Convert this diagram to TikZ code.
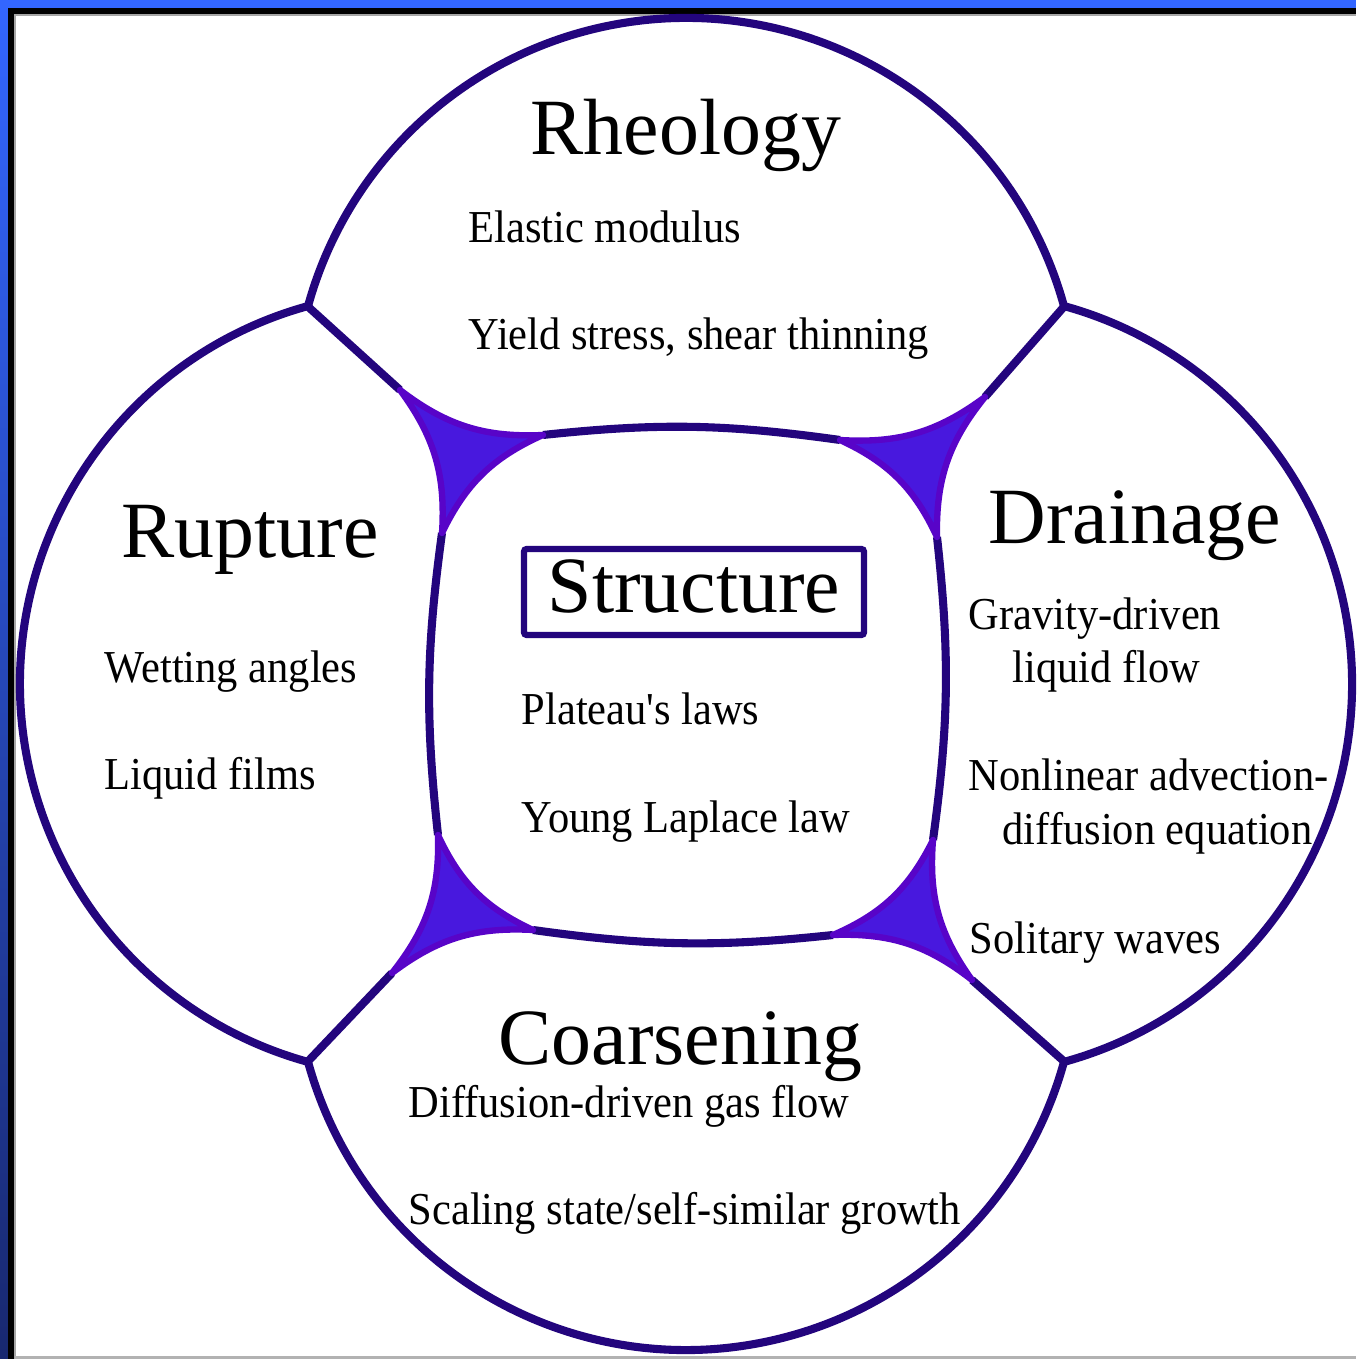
\documentclass[tikz,border=0pt]{standalone}
\usepackage{fontspec}
\setmainfont{Liberation Serif}
\newfontfamily\itemfont[FakeStretch=0.93]{Liberation Serif}
\usetikzlibrary{calc}

\definecolor{film}{RGB}{35,5,125}
\definecolor{pbfill}{RGB}{72,24,222}
\definecolor{pbedge}{RGB}{88,4,200}
\definecolor{frameblue}{RGB}{51,102,255}
\definecolor{framedark}{RGB}{24,40,112}

\tikzset{
  filmline/.style={draw=film, line width=2.3pt},
  plateau/.style={fill=pbfill, draw=pbedge, line width=1.8pt, line join=round},
  bigtitle/.style={anchor=base west, inner sep=0pt, font=\fontsize{22.7}{26}\selectfont},
  topic/.style={anchor=base west, inner sep=0pt, font=\itemfont\fontsize{13}{15}\selectfont},
  structbox/.style={draw=film, line width=1.8pt, rounded corners=0.8pt, inner sep=0pt,
    minimum width=34mm, minimum height=8.6mm, text height=16pt, text depth=4.6pt,
    font=\fontsize{22.7}{26}\selectfont},
}

\begin{document}
\begin{tikzpicture}[x=0.1mm,y=0.1mm]
  % frame
  \useasboundingbox (0,0) rectangle (1356,1359);
  \fill[white] (0,0) rectangle (1356,1359);
  \shade[top color=frameblue, bottom color=framedark] (0,0) rectangle (8,1359);
  \fill[frameblue] (0,1351) rectangle (1356,1359);
  \fill[black] (8,0) rectangle (14.5,1351);
  \fill[black] (8,1344.5) rectangle (1356,1351);
  \draw[black!35, line width=0.4pt] (15,0) -- (15,1344) -- (1356,1344);
  \draw[black!30, line width=0.6pt] (15,1.5) -- (1356,1.5);

  % outer bubbles
  \coordinate (c) at (686,675);
  \foreach \a in {0,90,180,270}
    \draw[filmline] ($(c)+(\a:274)+(\a-74.7:392)$) arc[start angle=\a-74.7, end angle=\a+74.7, radius=392];
  \coordinate (jTL) at ($(c)+(90:274)+(164.7:392)$);
  \coordinate (jTR) at ($(c)+(90:274)+(15.3:392)$);
  \coordinate (jBL) at ($(c)+(270:274)+(195.3:392)$);
  \coordinate (jBR) at ($(c)+(270:274)+(-15.3:392)$);

  % plateau border corners
  \coordinate (a1) at (400,969); \coordinate (a2) at (543,924); \coordinate (a3) at (442,826);
  \coordinate (b1) at (985,962); \coordinate (b2) at (840,919); \coordinate (b3) at (937,822);
  \coordinate (c1) at (392,386); \coordinate (c2) at (533,429); \coordinate (c3) at (438,524);
  \coordinate (d1) at (972,379); \coordinate (d2) at (833,424); \coordinate (d3) at (933,519);

  % films
  \draw[filmline] (jTL) -- (a1);
  \draw[filmline] (jTR) -- (b1);
  \draw[filmline] (jBL) -- (c1);
  \draw[filmline] (jBR) -- (d1);
  \draw[filmline] (a2) to[bend left=7] (b2);
  \draw[filmline] (b3) to[bend left=7] (d3);
  \draw[filmline] (d2) to[bend left=7] (c2);
  \draw[filmline] (c3) to[bend left=7] (a3);

  % plateau borders
  \draw[plateau] (a1) to[bend right=20] (a2) to[bend right=20] (a3) to[bend right=20] cycle;
  \draw[plateau] (b2) to[bend right=20] (b1) to[bend right=20] (b3) to[bend right=20] cycle;
  \draw[plateau] (c1) to[bend right=20] (c3) to[bend right=20] (c2) to[bend right=20] cycle;
  \draw[plateau] (d2) to[bend right=20] (d3) to[bend right=20] (d1) to[bend right=20] cycle;

  % texts
  \node[bigtitle] (rheo) at (530,1204) {Rheology};
  \node[topic] (elastic) at (468,1116) {Elastic modulus};
  \node[topic] (yield) at (468,1009) {Yield stress, shear thinning};

  \node[bigtitle] (rupt) at (121,801) {Rupture};
  \node[topic] (wet) at (104,676) {Wetting angles};
  \node[topic] (films) at (104,569) {Liquid films};

  \node[bigtitle] (drain) at (988,815) {Drainage};
  \node[topic] (grav) at (968,729) {Gravity-driven};
  \node[topic] (liqflow) at (1012,676) {liquid flow};
  \node[topic] (nonlin) at (968,568) {Nonlinear advection-};
  \node[topic] (diffeq) at (1002,514) {diffusion equation};
  \node[topic] (solit) at (969,405) {Solitary waves};

  \node[structbox] (struct) at (694,767) {Structure};
  \node[topic] (plat) at (521,634) {Plateau's laws};
  \node[topic] (young) at (521,526) {Young Laplace law};

  \node[bigtitle] (coars) at (498,294) {Coarsening};
  \node[topic] (gasflow) at (408,241) {Diffusion-driven gas flow};
  \node[topic] (scaling) at (408,134) {Scaling state/self-similar growth};
\end{tikzpicture}
\end{document}
